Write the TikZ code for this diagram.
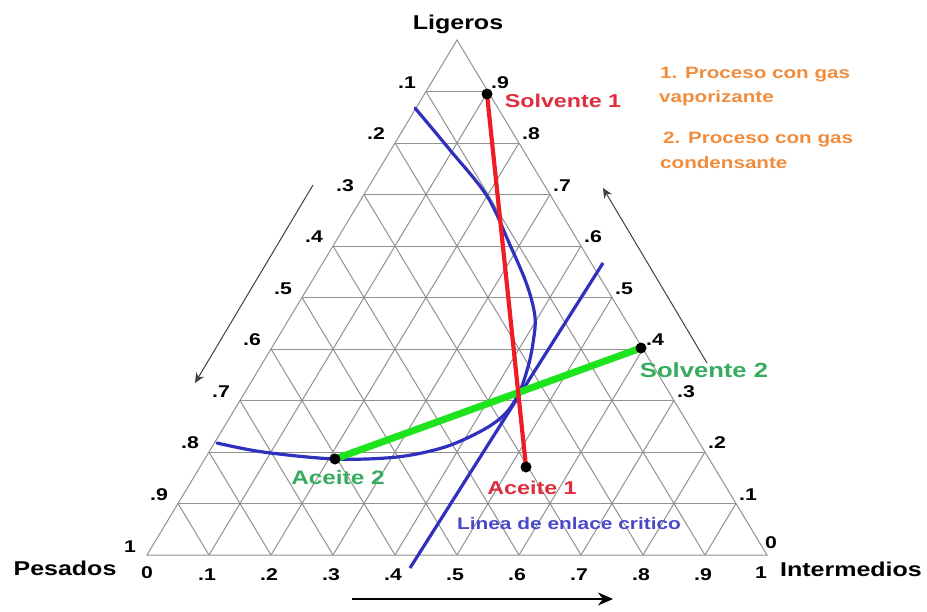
\documentclass[tikz,border=0pt]{standalone}
\usepackage{fontspec}
\setmainfont{Liberation Sans}[FakeStretch=1.25]
\usetikzlibrary{arrows.meta}
\definecolor{gridc}{RGB}{145,145,145}
\definecolor{orng}{RGB}{240,140,60}
\definecolor{redl}{RGB}{238,28,36}
\definecolor{redt}{RGB}{222,45,60}
\definecolor{greenl}{RGB}{30,228,30}
\definecolor{greent}{RGB}{55,172,95}
\definecolor{bluel}{RGB}{48,48,190}
\definecolor{bluet}{RGB}{72,72,200}
\begin{document}
\begin{tikzpicture}[x=1pt,y=-1pt,
  gridline/.style={draw=gridc, line width=1pt},
  ticklab/.style={font=\fontsize{17}{17}\selectfont\bfseries, inner sep=0pt},
  axislab/.style={font=\fontsize{20}{20}\selectfont\bfseries, inner sep=0pt, anchor=base},
  collab/.style={font=\fontsize{19.5}{20}\selectfont\bfseries, inner sep=0pt},
  orlab/.style={font=\fontsize{16.5}{18}\selectfont\bfseries, text=orng, inner sep=0pt, anchor=base west},
  dotnode/.style={circle, fill=black, inner sep=0pt, minimum size=11pt},
  dirarrow/.style={draw=black!75, line width=1pt, -{Stealth[length=10pt,width=9pt]}},
  ]
\useasboundingbox (0,0) rectangle (927,611);
% triangle corners
\coordinate (A) at (147,555);
\coordinate (B) at (767,555);
\coordinate (C) at (457,40);
% grid
\foreach \k in {1,...,9} {
  \draw[gridline] ({147+31*\k},{555-51.5*\k}) -- ({767-31*\k},{555-51.5*\k});
  \draw[gridline] ({147+62*\k},555) -- ({767-31*(10-\k)},{555-51.5*(10-\k)});
  \draw[gridline] ({147+62*\k},555) -- ({147+31*\k},{555-51.5*\k});
}
\draw[gridline] (A) -- (B) -- (C) -- cycle;
% left tick labels
\foreach \m/\t in {1/.1,2/.2,3/.3,4/.4,5/.5,6/.6,7/.7,8/.8,9/.9}
  \node[ticklab] (tl\m) at ({147+31*(10-\m)-19},{555-51.5*(10-\m)-9}) {\t};
\node[ticklab] (tl10) at (130,547) {1};
% right tick labels
\foreach \j in {1,...,9}
  \node[ticklab] (tr\j) at ({767-31*\j+12},{555-51.5*\j-9}) {.\j};
\node[ticklab] (tr0) at (771,543) {0};
% bottom tick labels
\node[ticklab] (tb0) at (147,573) {0};
\foreach \k in {1,...,9}
  \node[ticklab] (tb\k) at ({147+62*\k-2},575) {.\k};
\node[ticklab] (tb10) at (761,573) {1};
% axis names
\node[axislab] (lig) at (458,29) {Ligeros};
\node[axislab] (pes) at (65,575) {Pesados};
\node[axislab] (int) at (851,576) {Intermedios};
% direction arrows
\coordinate (la1) at (313,185); \coordinate (la2) at (195,383);
\coordinate (ra1) at (707,363); \coordinate (ra2) at (603,188);
\coordinate (ba1) at (352,599); \coordinate (ba2) at (613,599);
\draw[dirarrow] (la1) -- (la2);
\draw[dirarrow] (ra1) -- (ra2);
\draw[draw=black, line width=1.8pt, -{Stealth[length=15pt,width=13pt]}] (ba1) -- (ba2);
% binodal curve
\draw[bluel, line width=3.2pt, line cap=round] plot[smooth, tension=0.55] coordinates {
 (415,108) (450,150) (487,196) (510,245) (527,285) (535,317) (533,343)
 (528,367) (519,393) (505,414) (483,430) (445,447) (397,457) (335,459)
 (263,452) (217,443)};
% critical tie line
\coordinate (cl1) at (410,568); \coordinate (cl2) at (603,263);
\draw[bluel, line width=3.2pt] (cl1) -- (cl2);
% process points
\coordinate (s1) at (487,94);
\coordinate (a1) at (526,467);
\coordinate (s2) at (641,348);
\coordinate (a2) at (335,459);
\draw[greenl, line width=7pt] (a2) -- (s2);
\draw[redl, line width=4.2pt] (s1) -- (a1);
\node[dotnode] (ds1) at (s1) {};
\node[dotnode] (da1) at (a1) {};
\node[dotnode] (ds2) at (s2) {};
\node[dotnode] (da2) at (a2) {};
% coloured labels
\node[collab, text=redt, font=\fontsize{18.6}{20}\selectfont\bfseries] (ls1) at (563,101) {Solvente 1};
\node[collab, text=redt, font=\fontsize{18.6}{20}\selectfont\bfseries] (la1t) at (532,488) {Aceite 1};
\node[collab, text=greent, font=\fontsize{20.5}{22}\selectfont\bfseries] (ls2) at (704,370) {Solvente 2};
\node[collab, text=greent] (la2t) at (338,478) {Aceite 2};
\node[collab, text=bluet, font=\fontsize{16.7}{18}\selectfont\bfseries] (lcl) at (569,524) {Linea de enlace critico};
% legend
\node[orlab] (o1) at (660,78) {1. Proceso con gas};
\node[orlab] (o2) at (659,102) {vaporizante};
\node[orlab] (o3) at (663,143) {2. Proceso con gas};
\node[orlab] (o4) at (660,168) {condensante};
\end{tikzpicture}
\end{document}
